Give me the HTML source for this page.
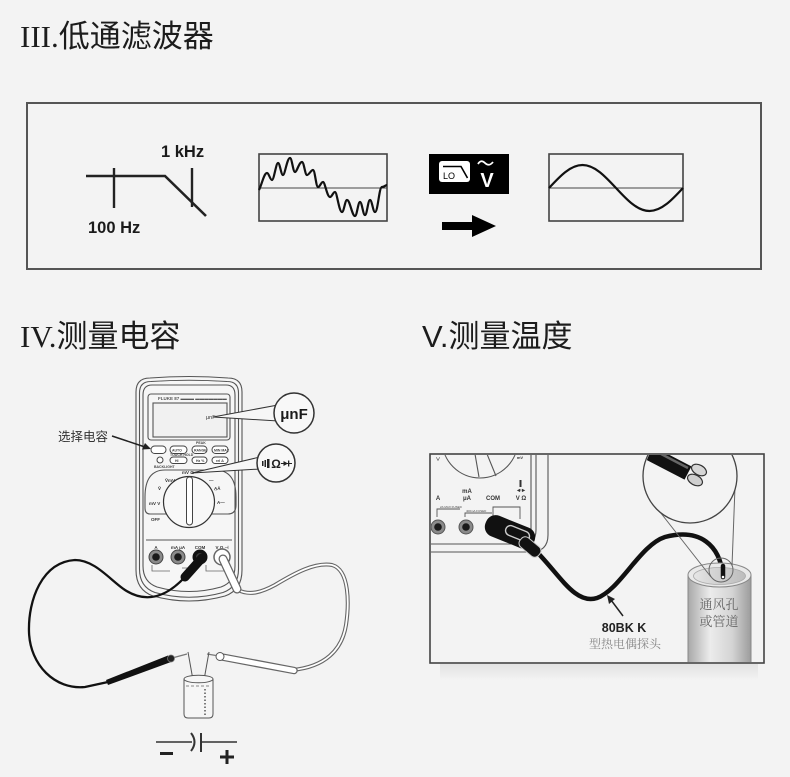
<!DOCTYPE html>
<html><head><meta charset="utf-8"><style>
html,body{margin:0;padding:0;background:#f3f3f3;}
svg{display:block;}
</style></head><body>
<svg width="790" height="777" viewBox="0 0 790 777" xmlns="http://www.w3.org/2000/svg" font-family="'Liberation Sans','Noto Sans CJK SC',sans-serif">
<defs>
<linearGradient id="pipe" x1="0" x2="1" y1="0" y2="0">
<stop offset="0" stop-color="#a8a8a8"/><stop offset="0.35" stop-color="#ececec"/><stop offset="0.7" stop-color="#d4d4d4"/><stop offset="1" stop-color="#9c9c9c"/>
</linearGradient>
<linearGradient id="pipetop" x1="0" x2="1" y1="0" y2="0">
<stop offset="0" stop-color="#e6e6e6"/><stop offset="0.5" stop-color="#cfcfcf"/><stop offset="1" stop-color="#bdbdbd"/>
</linearGradient>
<linearGradient id="shadow" x1="0" x2="0" y1="0" y2="1">
<stop offset="0" stop-color="#e2e2e2"/><stop offset="1" stop-color="#f3f3f3"/>
</linearGradient>
<clipPath id="tbox"><rect x="431" y="455" width="332" height="207"/></clipPath>
<clipPath id="mag"><circle cx="690" cy="476" r="46"/></clipPath>
</defs>
<rect width="790" height="777" fill="#f3f3f3"/>

<!-- Titles -->
<text x="20" y="47" font-size="31" fill="#1c1c1c"><tspan font-family="'Liberation Serif',serif">III.</tspan>低通滤波器</text>
<text x="20" y="347" font-size="31" fill="#1c1c1c"><tspan font-family="'Liberation Serif',serif">IV.</tspan>测量电容</text>
<text x="422" y="347" font-size="31" fill="#1c1c1c">V.测量温度</text>

<!-- Section III box -->
<rect x="27" y="103" width="734" height="166" fill="none" stroke="#555" stroke-width="2"/>
<!-- filter response -->
<path d="M86,176 L165,176 L206,216" fill="none" stroke="#222" stroke-width="2.6"/>
<line x1="114" y1="168" x2="114" y2="208" stroke="#222" stroke-width="2.4"/>
<line x1="192" y1="168" x2="192" y2="207" stroke="#222" stroke-width="2.4"/>
<text x="161" y="157" font-size="16.5" font-weight="bold" fill="#1a1a1a">1 kHz</text>
<text x="88" y="233" font-size="16.5" font-weight="bold" fill="#1a1a1a">100 Hz</text>
<!-- noisy wave -->
<rect x="259" y="154" width="128" height="67" fill="none" stroke="#444" stroke-width="1.6"/>
<line x1="259" y1="188" x2="387" y2="188" stroke="#444" stroke-width="1"/>
<path d="M259,190 C262,184 264,173 267,173 C269,173 270,180 272,180 C274,180 276,163 278,163 C280,163 281,175 283,175 C285,175 287,158 290,158 C292,158 293,172 295,172 C297,172 299,162 302,162 C304,162 305,175 307,175 C309,175 311,170 313,170 C315,170 316,187 318,187 C320,187 321,182 323,182 C325,182 327,197 330,197 C332,197 333,192 335,192 C337,192 339,212 342,212 C344,212 345,200 347,200 C350,200 352,216 355,216 C357,216 358,202 360,202 C362,202 363,215 365,215 C367,215 368,200 370,200 C372,200 373,212 375,212 C378,212 379,187 382,187 C384,187 386,185 387,185" fill="none" stroke="#111" stroke-width="2.2"/>
<!-- LO V icon -->
<rect x="429" y="154" width="80" height="40" fill="#000"/>
<rect x="439" y="161" width="31" height="21" rx="3" fill="#fff"/>
<path d="M443,166.5 L461,166.5 L467.5,178" fill="none" stroke="#000" stroke-width="1.6"/>
<text x="443" y="179" font-size="9" fill="#000">LO</text>
<path d="M478,164 Q481,159 485,163 Q489,167 493,162" fill="none" stroke="#fff" stroke-width="1.8"/>
<text x="487" y="187" font-size="20" font-weight="bold" fill="#fff" text-anchor="middle">V</text>
<!-- arrow -->
<rect x="442" y="222" width="32" height="8" fill="#000"/>
<polygon points="472,215 496,226 472,237" fill="#000"/>
<!-- clean sine -->
<rect x="549" y="154" width="134" height="67" fill="none" stroke="#444" stroke-width="1.6"/>
<line x1="549" y1="188" x2="683" y2="188" stroke="#444" stroke-width="1"/>
<path d="M549,188 C559.9,176.2 570.4,165 582.5,165 S605.1,176.2 616,188 S637.4,211 649.5,211 S672.1,199.8 683,188" fill="none" stroke="#111" stroke-width="2.2"/>

<!-- ============ Section IV: multimeter ============ -->
<g stroke="#555" fill="none" stroke-width="1.1">
<path d="M136,392 Q136,378 150,378 Q189,375 228,378 Q242,378 242,392 L242,570 Q242,590 225,596 Q189,606 153,596 Q136,590 136,570 Z" fill="#f6f6f6"/>
<path d="M139.5,393 Q139.5,381.5 151,381.5 Q189,379 227,381.5 Q238.5,381.5 238.5,393 L238.5,569 Q238.5,587 223,592.5 Q189,602 155,592.5 Q139.5,587 139.5,569 Z"/>
<path d="M143,395 Q143,385 152,385 L226,385 Q235,385 235,395 L235,566 Q235,582 221,587 Q189,596 157,587 Q143,582 143,566 Z"/>
<rect x="148" y="394" width="82" height="46" rx="3"/>
<rect x="153" y="403" width="74" height="34" fill="#f1f1f1"/>
<path d="M146,540 L232,540"/>
<path d="M145,497 Q145,470 165,470 L215,470 Q236,470 236,497 L236,505 Q236,514 228,514 L150,514 Q145,514 145,508 Z"/>
</g>
<text x="158" y="400" font-size="4.5" fill="#555" font-weight="bold">FLUKE 87 ▬▬▬ ▬▬▬▬▬▬▬</text>
<text x="206" y="419" font-size="5.5" fill="#333">μnF</text>
<!-- buttons -->
<g fill="#fff" stroke="#444" stroke-width="1">
<rect x="151" y="446" width="15" height="7.5" rx="3.7"/>
<rect x="170" y="446" width="17" height="7.5" rx="3.7"/>
<rect x="192" y="446" width="15" height="7.5" rx="3.7"/>
<rect x="212" y="446" width="16" height="7.5" rx="3.7"/>
<rect x="170" y="457" width="17" height="6.5" rx="3.2"/>
<rect x="192" y="457" width="15" height="6.5" rx="3.2"/>
<rect x="212" y="457" width="16" height="6.5" rx="3.2"/>
<circle cx="160" cy="460" r="3"/>
</g>
<g fill="#444" font-size="3.5" font-weight="bold">
<text x="172" y="451.5">AUTO</text><text x="194" y="451.5">RANGE</text><text x="214" y="451.5">MIN MAX</text>
<text x="170" y="456">TOUCH HOLD</text><text x="196" y="444">PEAK</text>
<text x="175" y="462">HI</text><text x="196" y="462">Hz %</text><text x="216" y="462">rel Δ</text>
<text x="154" y="468">BACKLIGHT</text>
</g>
<!-- dial -->
<circle cx="189" cy="502" r="25.5" fill="#f8f8f8" stroke="#333" stroke-width="1.2"/>
<rect x="186.5" y="477" width="6" height="48" rx="3" fill="#fff" stroke="#444" stroke-width="1"/>
<g fill="#333" font-size="4.5" font-weight="bold">
<text x="182" y="474">mV Ω</text><text x="165" y="482">ṼmV</text><text x="158" y="490">Ṽ</text>
<text x="149" y="505">mV V</text><text x="151" y="521">OFF</text><text x="209" y="482">—</text>
<text x="214" y="490">A̲Ā</text><text x="217" y="504">A—</text>
</g>
<!-- jacks -->
<g font-size="4.5" font-weight="bold" fill="#333" text-anchor="middle">
<text x="156" y="549">A</text><text x="178" y="549">mA μA</text><text x="200" y="549">COM</text><text x="222" y="549">V Ω ⊣</text>
</g>
<circle cx="156" cy="557" r="7" fill="#8a8a8a" stroke="#444" stroke-width="1"/><circle cx="156" cy="557" r="3.8" fill="#1a1a1a"/>
<circle cx="178" cy="557" r="7" fill="#8a8a8a" stroke="#444" stroke-width="1"/><circle cx="178" cy="557" r="3.8" fill="#1a1a1a"/>
<circle cx="200" cy="557" r="7.5" fill="#111"/><circle cx="200" cy="557" r="4" fill="#3a3a3a"/>
<circle cx="222" cy="557" r="8" fill="#fff" stroke="#666" stroke-width="1.5"/>
<path d="M152,565 L152,571 L170,571 M182,568 L196,568 M206,565 L206,571 L230,571" fill="none" stroke="#666" stroke-width="0.8"/>

<!-- black lead -->
<path d="M184,578 C165,598 145,603 125,590 C110,580 95,560 75,560 C42,562 28,600 29,632 C30,665 55,690 85,687 L108,682" fill="none" stroke="#111" stroke-width="2.3"/>
<line x1="202" y1="558" x2="185" y2="577" stroke="#111" stroke-width="9" stroke-linecap="round"/>
<polygon points="106,680 168,655.5 171,662 108,685" fill="#111"/>
<circle cx="171" cy="658.5" r="3.5" fill="#222" stroke="#777" stroke-width="0.8"/>
<line x1="174" y1="657.5" x2="187" y2="654" stroke="#777" stroke-width="1.2"/>
<!-- white lead -->
<g fill="none" stroke-linecap="round">
<path d="M238,590 C250,596 262,592 275,585 C295,573 315,562 332,565 C350,570 349,605 346,625 C342,650 325,667 292,670" stroke="#666" stroke-width="4"/>
<path d="M238,590 C250,596 262,592 275,585 C295,573 315,562 332,565 C350,570 349,605 346,625 C342,650 325,667 292,670" stroke="#fff" stroke-width="1.8"/>
<line x1="223" y1="559" x2="237" y2="589" stroke="#666" stroke-width="9"/>
<line x1="223" y1="559" x2="237" y2="589" stroke="#fff" stroke-width="6.5"/>
<line x1="294" y1="670.5" x2="222" y2="657" stroke="#666" stroke-width="7.5"/>
<line x1="294" y1="670.5" x2="222" y2="657" stroke="#fff" stroke-width="5"/>
</g>
<circle cx="220" cy="656.5" r="4" fill="#fff" stroke="#555" stroke-width="1"/>
<line x1="216" y1="655.5" x2="207" y2="654" stroke="#777" stroke-width="1.2"/>
<!-- capacitor -->
<g stroke="#555" stroke-width="1" fill="none">
<line x1="193" y1="680" x2="188" y2="652"/>
<line x1="204" y1="680" x2="209" y2="652"/>
<path d="M184,679 L184,714 Q184,718 188,718 L209,718 Q213,718 213,714 L213,679" fill="#f6f6f6"/>
<ellipse cx="198.5" cy="679" rx="14.5" ry="3.8" fill="#f6f6f6"/>
<line x1="186" y1="686" x2="211" y2="686" stroke-dasharray="3,2" stroke="#888"/>
<line x1="205" y1="689" x2="205" y2="715" stroke-dasharray="1.5,2" stroke="#555" stroke-width="1.5"/>
</g>
<!-- capacitor symbol -->
<g stroke="#333" fill="none">
<line x1="156" y1="742" x2="192" y2="742" stroke-width="1.5"/>
<path d="M191,733 Q198,742 191,751" stroke-width="2"/>
<line x1="201" y1="733" x2="201" y2="752" stroke-width="2"/>
<line x1="201" y1="742" x2="237" y2="742" stroke-width="1.5"/>
</g>
<rect x="160" y="752" width="13" height="3" fill="#222"/>
<rect x="220" y="755.5" width="14" height="3" fill="#222"/>
<rect x="225.5" y="750" width="3" height="14" fill="#222"/>

<!-- callouts -->
<polygon points="213,417 278,405 278,421" fill="#f6f6f6" stroke="#333" stroke-width="1"/>
<circle cx="294" cy="413" r="20" fill="#f8f8f8" stroke="#333" stroke-width="1.5"/>
<text x="294" y="419" font-size="15" font-weight="bold" fill="#1a1a1a" text-anchor="middle">μnF</text>
<polygon points="192,473 260,457 260,469" fill="#f6f6f6" stroke="#333" stroke-width="1"/>
<circle cx="276" cy="463" r="19" fill="#f8f8f8" stroke="#333" stroke-width="1.5"/>
<g fill="#222">
<rect x="262" y="461" width="1.5" height="5"/><rect x="264.5" y="460" width="1.5" height="7"/><rect x="267" y="459" width="2.5" height="9"/>
<polygon points="283.5,461 288,463.5 283.5,466"/><rect x="288" y="460.5" width="1.3" height="6"/>
</g>
<line x1="281" y1="463.5" x2="292" y2="463.5" stroke="#222" stroke-width="1"/>
<text x="276" y="468" font-size="12" font-weight="bold" fill="#222" text-anchor="middle">Ω</text>
<!-- label -->
<text x="58" y="441" font-size="12.5" fill="#333">选择电容</text>
<line x1="112" y1="436" x2="145" y2="447" stroke="#222" stroke-width="1.5"/>
<polygon points="151,449 142,449.5 145,443" fill="#222"/>

<!-- ============ Section V: temperature ============ -->
<rect x="440" y="664" width="318" height="16" fill="url(#shadow)"/>
<rect x="430" y="454" width="334" height="209" fill="#f3f3f3" stroke="#444" stroke-width="1.6"/>
<g clip-path="url(#tbox)">
<g stroke="#555" fill="none" stroke-width="1.1">
<path d="M548,450 L548,535 Q548,552 530,552 L425,552"/>
<path d="M536,450 L536,530 Q536,544 522,544 L425,544"/>
<path d="M531,450 L531,530"/>
<circle cx="480" cy="440" r="38"/>
<line x1="475" y1="454" x2="479" y2="477"/>
<line x1="487" y1="454" x2="496" y2="476"/>
<path d="M437,517 L437,509 L460,509 M465,517 L465,513 L492,513 M493,520 L493,507 L520,507 L520,519" stroke-width="0.9"/>
</g>
<g font-size="6" font-weight="bold" fill="#333" text-anchor="middle">
<text x="438" y="500">A</text><text x="467" y="493">mA</text><text x="467" y="500">μA</text>
<text x="493" y="500">COM</text><text x="521" y="500">V Ω</text><text x="521" y="492">◂·▸</text>
<text x="438" y="461" font-size="5">∨</text><text x="520" y="459" font-size="4">mV</text>
</g>
<rect x="519.5" y="480" width="2" height="7" fill="#333"/>
<g font-size="3" fill="#444"><text x="440" y="508">2A MAX FUSED</text><text x="466" y="512">400mA FUSED</text></g>
<circle cx="438" cy="527" r="7" fill="#8a8a8a" stroke="#555" stroke-width="1"/><circle cx="438" cy="527" r="3.8" fill="#1a1a1a"/>
<circle cx="466" cy="527" r="7" fill="#8a8a8a" stroke="#555" stroke-width="1"/><circle cx="466" cy="527" r="3.8" fill="#1a1a1a"/>
<!-- probe cable -->
<path d="M535,550 C560,575 575,605 597,598 C620,590 640,545 665,537 C700,528 720,545 723,576" fill="none" stroke="#111" stroke-width="4.5" stroke-linecap="round"/>
<!-- plug -->
<g transform="rotate(22 510 532)">
<rect x="484" y="521" width="52" height="22" rx="10" fill="#111"/>
<rect x="505" y="525.5" width="25" height="10" rx="5" fill="none" stroke="#ccc" stroke-width="1.4"/>
</g>
<g transform="rotate(40 530 547)">
<rect x="518" y="541" width="24" height="12" rx="5" fill="#111" stroke="#ccc" stroke-width="1"/>
</g>
<!-- pipe -->
<rect x="688" y="575" width="63" height="95" fill="url(#pipe)" stroke="#888" stroke-width="1"/>
<ellipse cx="719.5" cy="575" rx="31.5" ry="12" fill="#e9e9e9" stroke="#888" stroke-width="1"/>
<ellipse cx="719.5" cy="576" rx="26" ry="8.5" fill="url(#pipetop)" stroke="#aaa" stroke-width="0.8"/>
<path d="M723,566 L723,577" stroke="#111" stroke-width="4.5" stroke-linecap="round"/>
<circle cx="723" cy="577" r="1.3" fill="#fff"/>
<circle cx="721" cy="570" r="12" fill="none" stroke="#666" stroke-width="1"/>
<text x="719" y="609" font-size="13" fill="#666" text-anchor="middle" font-family="'Liberation Serif','Noto Serif CJK SC',serif">通风孔</text>
<text x="719" y="626" font-size="13" fill="#666" text-anchor="middle" font-family="'Liberation Serif','Noto Serif CJK SC',serif">或管道</text>
<!-- magnifier -->
<line x1="660" y1="512" x2="711" y2="577" stroke="#666" stroke-width="1"/>
<line x1="735" y1="487" x2="732" y2="566" stroke="#666" stroke-width="1"/>
<circle cx="690" cy="476" r="47" fill="#f3f3f3" stroke="#444" stroke-width="1.3"/>
<g clip-path="url(#mag)">
<line x1="636" y1="446" x2="688" y2="473" stroke="#111" stroke-width="15"/>
<line x1="640" y1="443" x2="688" y2="468" stroke="#666" stroke-width="2.5"/>
<ellipse cx="699" cy="470" rx="8" ry="5" transform="rotate(28 699 470)" fill="#d6d6d6" stroke="#333" stroke-width="1.2"/>
<ellipse cx="695" cy="480" rx="8" ry="5" transform="rotate(28 695 480)" fill="#cfcfcf" stroke="#333" stroke-width="1.2"/>
</g>
<!-- label -->
<line x1="623" y1="616" x2="611" y2="600" stroke="#222" stroke-width="1.5"/>
<polygon points="607,595 615,599 609,604" fill="#222"/>
<text x="624" y="632" font-size="12.5" font-weight="bold" fill="#222" text-anchor="middle">80BK K</text>
<text x="625" y="648" font-size="12" fill="#888" text-anchor="middle" font-family="'Liberation Serif','Noto Serif CJK SC',serif">型热电偶探头</text>
</g>
</svg>
</body></html>
